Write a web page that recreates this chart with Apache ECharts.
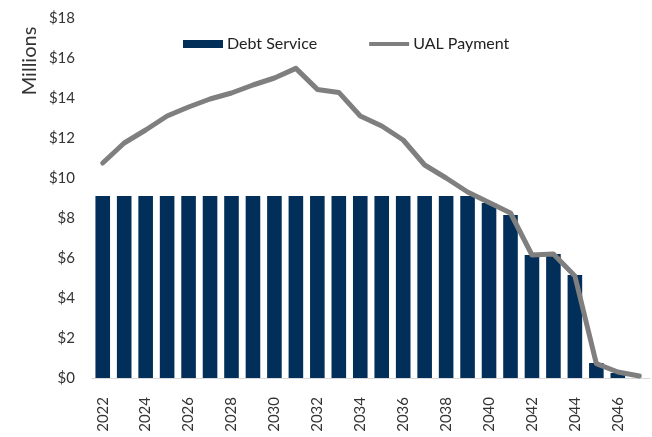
<!DOCTYPE html>
<html>
<head>
<meta charset="utf-8">
<style>
  html, body { margin: 0; padding: 0; background: #ffffff; }
  #chart { width: 652px; height: 437px; }
</style>
<script src="https://cdn.jsdelivr.net/npm/echarts@6/dist/echarts.min.js"></script>
</head>
<body>
<div id="chart"></div>
<script>
// Fiscal years on the category axis
const years = ['2022','2023','2024','2025','2026','2027','2028','2029','2030','2031',
               '2032','2033','2034','2035','2036','2037','2038','2039','2040','2041',
               '2042','2043','2044','2045','2046','2047'];

// Annual debt service, $ millions
const debtService = [9.1, 9.1, 9.1, 9.1, 9.1, 9.1, 9.1, 9.1, 9.1, 9.1,
                     9.1, 9.1, 9.1, 9.1, 9.1, 9.1, 9.1, 9.1, 8.75, 8.15,
                     6.15, 6.2, 5.15, 0.75, 0.25, 0];

// Annual UAL payment, $ millions
const ualPayment = [10.75, 11.75, 12.4, 13.1, 13.55, 13.95, 14.25, 14.65, 15.0, 15.48,
                    14.43, 14.28, 13.1, 12.6, 11.9, 10.65, 10.0, 9.3, 8.77, 8.25,
                    6.15, 6.2, 5.1, 0.72, 0.3, 0.1];

const font = 'Lato, "Open Sans", sans-serif';

const chart = echarts.init(document.getElementById('chart'), null, { renderer: 'canvas' });
chart.setOption({
  animation: false,
  backgroundColor: '#ffffff',
  textStyle: { fontFamily: font },
  grid: { left: 92, right: 2, top: 18, bottom: 59, containLabel: false },
  graphic: [
    {
      type: 'text',
      x: 30,
      y: 61,
      rotation: Math.PI / 2,
      style: {
        text: 'Millions',
        fontFamily: font,
        fontSize: 20,
        fill: '#333333',
        align: 'center',
        verticalAlign: 'middle'
      }
    }
  ],
  legend: {
    top: 31,
    left: 178,
    itemWidth: 40,
    itemHeight: 8,
    itemGap: 52,
    textStyle: { fontFamily: font, fontSize: 16, color: '#222222', padding: [0, 0, 0, -1] },
    data: [
      { name: 'Debt Service', icon: 'rect' },
      { name: 'UAL Payment', icon: 'path://M0,2 L40,2 L40,6 L0,6 Z', symbolKeepAspect: true }
    ]
  },
  xAxis: {
    type: 'category',
    data: years,
    axisLine: { lineStyle: { color: '#d9d9d9', width: 1 } },
    axisTick: { show: false },
    axisLabel: {
      interval: 1,
      rotate: 90,
      fontSize: 15,
      color: '#333333',
      fontFamily: font,
      margin: 19
    }
  },
  yAxis: {
    type: 'value',
    min: 0,
    max: 18,
    interval: 2,
    splitLine: { show: false },
    axisLine: { show: false },
    axisTick: { show: false },
    axisLabel: {
      fontSize: 15,
      color: '#333333',
      fontFamily: font,
      margin: 17,
      formatter: v => '$' + v
    }
  },
  series: [
    {
      name: 'Debt Service',
      type: 'bar',
      data: debtService,
      barCategoryGap: '32%',
      itemStyle: { color: '#022f59' }
    },
    {
      name: 'UAL Payment',
      type: 'line',
      data: ualPayment,
      symbol: 'none',
      smooth: false,
      lineStyle: { color: '#7f7f7f', width: 5, cap: 'round', join: 'round' },
      itemStyle: { color: '#7f7f7f' }
    }
  ]
});
</script>
</body>
</html>
